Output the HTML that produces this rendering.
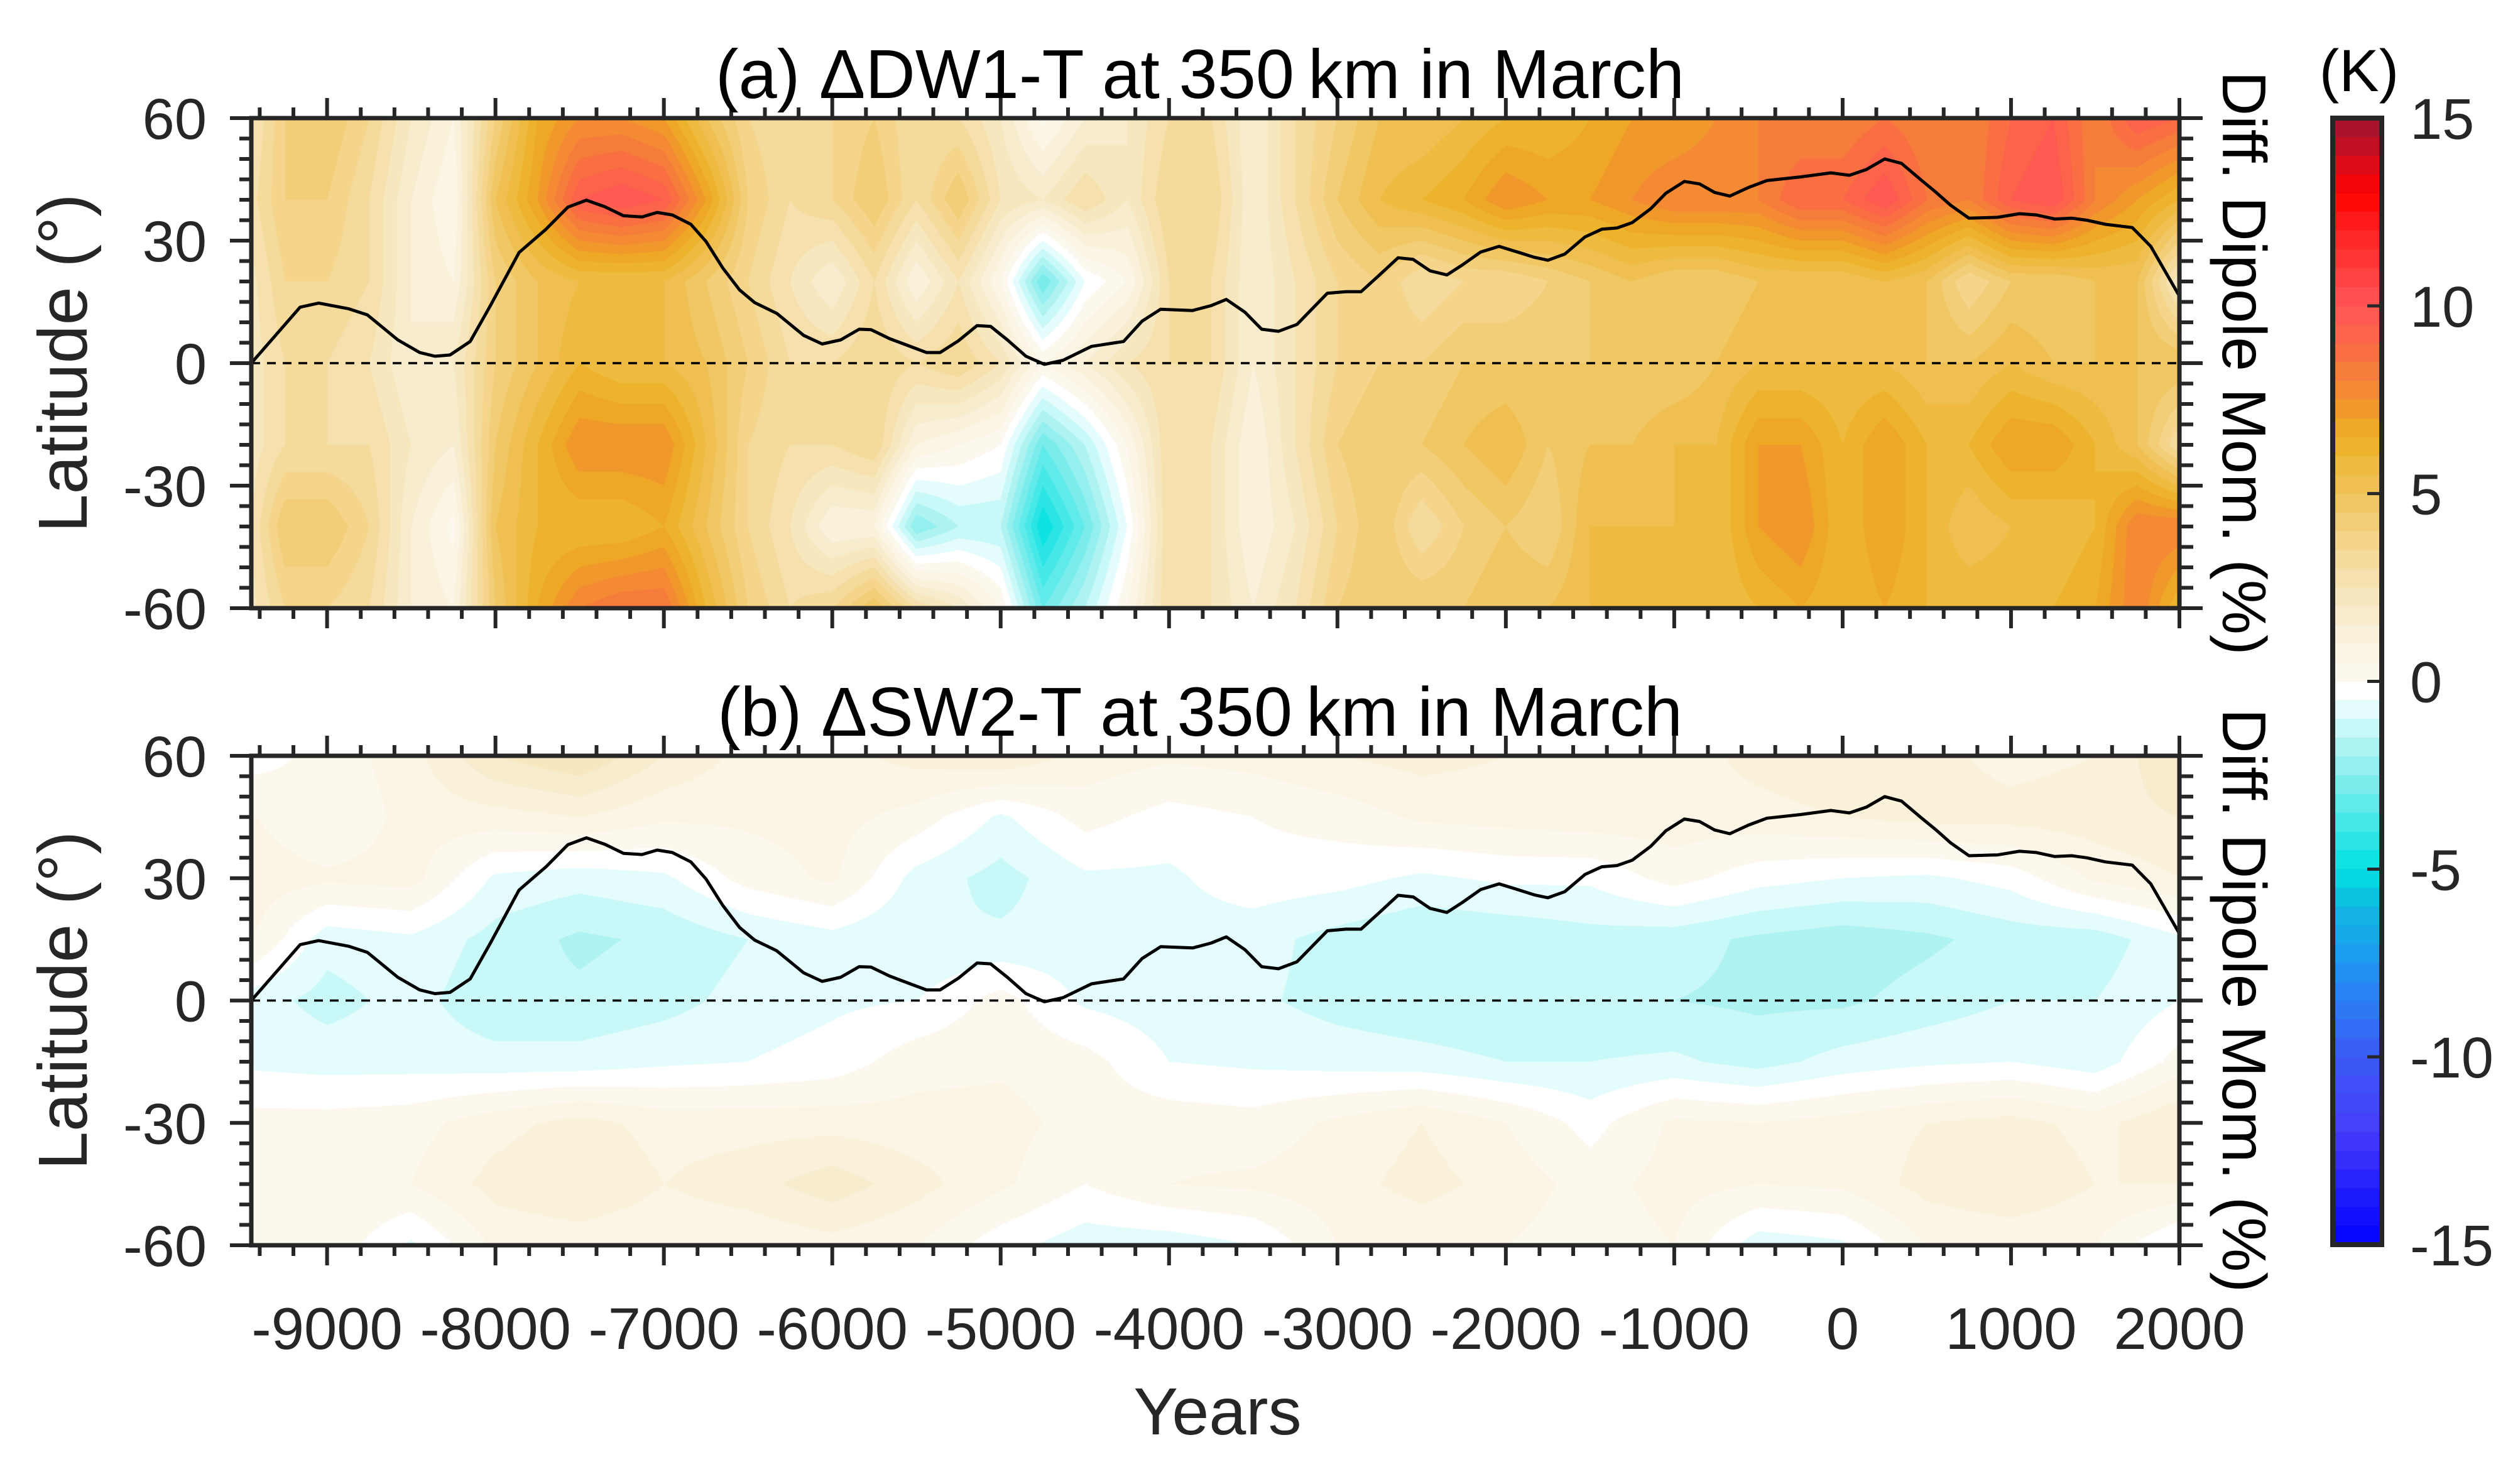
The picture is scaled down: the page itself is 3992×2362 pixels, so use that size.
<!DOCTYPE html>
<html><head><meta charset="utf-8">
<style>
html,body{margin:0;padding:0;background:#fff;}
#root{position:relative;width:3992px;height:2362px;overflow:hidden;background:#fff;}
canvas{position:absolute;}
svg{position:absolute;left:0;top:0;}
text{font-family:"Liberation Sans",Arial,sans-serif;fill:#262626;}
</style></head>
<body>
<div id="root">
<canvas id="heatA" width="3069" height="780" style="left:400px;top:188px"></canvas>
<canvas id="heatB" width="3069" height="779" style="left:400px;top:1203px"></canvas>
<canvas id="cbar" width="78" height="1793" style="left:3713px;top:188px"></canvas>
<svg id="svg" width="3992" height="2362" xmlns="http://www.w3.org/2000/svg"></svg>
</div>
<script>
// ---------- data ----------
const gridYearsA = [-9500,-9250,-9000,-8750,-8500,-8250,-8000,-7750,-7500,-7250,-7000,-6750,-6500,-6250,-6000,-5750,-5500,-5250,-5000,-4750,-4500,-4250,-4000,-3750,-3500,-3250,-3000,-2750,-2500,-2250,-2000,-1750,-1500,-1250,-1000,-750,-500,-250,0,250,500,750,1000,1250,1500,1750,2000];
const gridLatsA = [60,40,20,0,-20,-40,-60];
const dw1Lat60  = [2,4,4.5,3.5,2,1,4,6.5,7.5,7.5,7,5,3.5,3,3.5,4,3,3,2,0.3,1.5,2,3, 3,1.5,3,4,5,5,5.5,6,6,6.5,7,7,7.5,8,8,8,8.5,8,8,9,9.5,8,9.5,9];
const dw1Lat40  = [2.5,4,4,3,1.5,0.5,5,7,9.5,10,9.5,7,4,3,3.5,4.5,3,4.5,2.5,2,3,2,3.5, 3.5,1.5,3,4.5,5.5,6,6.5,7.5,7,7,7.5,8,8,8,9,9,10,8.5,8,9.5,10,8,7,6];
const dw1Lat20  = [2,3.5,3.5,3,1.5,1,4,5,5.5,5.5,5.5,4.5,3.5,2.5,1.5,3,1,2.5,0.5,-3,-0.5,0.5,3, 3,1.5,2.5,3.5,4,3,3.5,3.5,4,4.5,5,4.5,4.5,5,5,5,5.5,5,3.5,4.5,4.5,5,5,2];
const dw1Lat0   = [2,3,3,2.5,1.5,2,4,5,6,5.5,5.5,5,4,3,3,3.5,3,3.5,2.5,0.5,1.5,2.5,3, 3,1.5,2.5,3.5,4,4,4.5,4.5,4.5,4.5,4.5,4.5,5,5.5,5.5,5.5,5.5,5,5,5.5,5,5,5,5];
const dw1LatS20 = [2,3,3,3,2,1.5,4.5,6,7.5,7.5,7.5,5.5,3.5,3,3,3.5,1,0.5,0,-3,-1.5,0.5,3, 2.5,1,2.5,4,4.5,4.5,5,5.5,4.5,5,5,5.5,5.5,7,7,6,7,6,6,7,7,6,5,3];
const dw1LatS40 = [2,4.5,4.5,3.5,1.5,0.3,5,6,6,6,6.5,5,3.5,2.5,1,1,-2.5,-1.5,-1.5,-5,-3,-0.5,3, 2.5,1,2,3.5,4.5,3,4,4.5,4,5.5,5.5,5.5,5.5,7,7.5,6,7,6,5,5.5,5.5,6,8,8];
const dw1LatS60 = [2,3.5,3.5,3,1.5,1,4.5,6.5,8,8.5,8.5,6,4,3,3.5,5,3,2,0.5,-3,-1.5,0.5,3, 2.5,1.5,2.5,4,4.5,4.5,4.5,5,5,5.5,5.5,5.5,5.5,6,6.5,6,6.5,6,6,6,6,6.5,8,6];

const gridYearsB = [-9500,-9000,-8500,-8000,-7500,-7000,-6500,-6000,-5500,-5000,-4500,-4000,-3500,-3000,-2500,-2000,-1500,-1000,-500,0,500,1000,1500,2000];
const gridLatsB = [60,45,30,15,0,-15,-30,-45,-60];
const sw2Lat60  = [-0.3,0.2,0.8,2,2.5,1.5,0.8,0.8,1.2,1.5,0.8,0.6,0.7,1,1.2,1.0,0.8,0.7,1.2,1.5,1.2,0.8,1.0,2];
const sw2Lat45  = [0.6,0,0.7,0.8,1,0.6,0.6,0.7,0.3,-0.6,0.2,-0.2,0,0.2,0.6,0.7,0.8,0.8,0.8,1,1.2,1.2,1.3,1.5];
const sw2Lat30  = [0.8,0.6,0.7,-0.6,-0.8,-0.6,0.2,0.6,-0.7,-1.2,-0.6,-0.6,-0.2,-0.3,-0.6,-0.4,-0.4,0.2,-0.3,-0.5,-0.6,-0.3,0.6,1.0];
const sw2Lat15  = [0.7,-0.8,-0.6,-1.2,-1.6,-1.4,-1,-0.7,-1.0,-0.9,-0.8,-0.7,-0.8,-1.2,-1.5,-1.4,-1.2,-1.3,-1.6,-1.8,-1.6,-1.3,-1.3,-0.6];
const sw2Lat0   = [-0.7,-1.2,-0.8,-1.4,-1.4,-1.2,-0.8,-0.6,-0.5,0.2,-0.6,-0.8,-0.9,-1.2,-1.4,-1.5,-1.4,-1.5,-1.6,-1.6,-1.3,-1.0,-1.0,-0.5];
const sw2LatS15 = [-0.6,-0.7,-0.7,-0.8,-0.8,-0.6,-0.5,-0.3,0.3,0.4,0.2,-0.5,-0.6,-0.7,-0.8,-1.0,-1.0,-0.9,-1.2,-0.8,-0.6,-0.5,-0.8,0.2];
const sw2LatS30 = [0.2,0.2,0.3,0.8,1.2,0.8,0.8,0.8,0.7,0.7,0.3,0.3,0.2,0.6,1,0.5,-0.2,0.6,0.5,0.7,1.0,1.2,0.8,1.5];
const sw2LatS45 = [0.3,0.5,0.5,1.2,1.5,1.0,1.3,1.8,1.2,0.6,0,0.5,0.6,0.8,1.2,0.8,0.3,0.7,0.5,0.6,1.2,1.5,1.0,1.0];
const sw2LatS60 = [0.5,0.4,-0.6,0.6,0.7,0.6,0.6,0.8,0.5,-0.3,-0.8,-0.8,-0.5,0.5,0.6,0.5,0.2,0.5,-0.8,-0.6,0.5,0.6,0.5,-0.6];

const dipoleYears = [-9450,-9160,-9050,-8870,-8760,-8580,-8450,-8360,-8270,-8150,-8030,-7860,-7700,-7570,-7460,-7350,-7240,-7130,-7040,-6950,-6840,-6750,-6650,-6550,-6460,-6330,-6170,-6060,-5950,-5840,-5770,-5660,-5550,-5440,-5360,-5250,-5140,-5060,-4960,-4850,-4740,-4630,-4460,-4270,-4160,-4050,-3860,-3750,-3660,-3550,-3450,-3350,-3240,-3060,-2950,-2860,-2750,-2640,-2550,-2450,-2350,-2260,-2150,-2040,-1930,-1830,-1750,-1650,-1530,-1430,-1340,-1250,-1140,-1050,-940,-850,-760,-670,-560,-450,-250,-70,40,140,250,350,470,550,640,750,920,1050,1150,1260,1360,1450,1560,1720,1830,2000];
const dipoleDiff = [0,13.7,14.7,13.3,11.8,5.7,2.6,1.7,2.0,5.3,14.1,27.1,32.8,38.2,39.9,38.3,36.1,35.8,36.9,36.3,34.0,29.8,23.3,17.9,14.8,12.2,6.8,4.7,5.7,8.3,8.2,6.0,4.3,2.6,2.6,5.5,9.2,9.0,5.7,1.7,-0.3,0.7,4.1,5.3,10.3,13.2,12.9,14.1,15.6,12.5,8.3,7.8,9.5,17.1,17.5,17.5,21.6,25.8,25.4,22.6,21.6,24.0,27.2,28.6,27.2,25.9,25.2,26.7,30.9,32.8,33.1,34.4,37.8,41.6,44.5,43.9,41.8,40.9,43.0,44.7,45.6,46.6,46.0,47.4,50.0,48.9,44.7,42.0,38.7,35.5,35.7,36.6,36.3,35.3,35.5,35.0,34.0,33.2,28.6,16.4];

const xTickLabels = ["-9000","-8000","-7000","-6000","-5000","-4000","-3000","-2000","-1000","0","1000","2000"];
const yTickLabels = ["60","30","0","-30","-60"];
const cbarTickLabels = ["15","10","5","0","-5","-10","-15"];

// ---------- layout ----------
const X0=400, X1=3469, YMIN=-9450, YMAX=2000;
const panels=[{top:188,bot:968,title:"(a) \u0394DW1-T at 350\u2009km in March",key:"a"},
              {top:1203,bot:1982,title:"(b) \u0394SW2-T at 350\u2009km in March",key:"b"}];
function xScale(yr){return X0+(yr-YMIN)/(YMAX-YMIN)*(X1-X0);}
function yScale(p,lat){return p.top+(60-lat)/120*(p.bot-p.top);}
const CB_T=188, CB_B=1981, CB_L=3713, CB_R=3791;
function cbY(v){return CB_T+(15-v)/30*(CB_B-CB_T);}

const cmapV=[-15,-12,-10,-7.5,-6,-5,-4.5,-3,-2,-1,-0.25,0.25,1,2,3,4,5,6.5,7,8,9,10,12,13,14,15];
const cmapC=[[0,0,255],[70,60,250],[60,90,245],[30,150,240],[15,185,225],[0,225,225],[30,228,228],[110,235,235],[160,240,240],[215,250,250],[255,255,255],[252,248,238],[250,243,225],[248,234,200],[245,222,165],[243,210,130],[240,195,90],[236,176,36],[240,160,40],[245,130,55],[250,105,70],[255,85,85],[255,35,35],[255,0,0],[205,15,30],[160,20,50]];
function cmap(v){
  let b=Math.floor(v*2)/2+0.25;
  if(b<-14.75)b=-14.75; if(b>14.75)b=14.75;
  for(let i=0;i<cmapV.length-1;i++){
    if(b>=cmapV[i]&&b<=cmapV[i+1]){
      const t=(b-cmapV[i])/(cmapV[i+1]-cmapV[i]);
      const a=cmapC[i],c=cmapC[i+1];
      return [a[0]+(c[0]-a[0])*t,a[1]+(c[1]-a[1])*t,a[2]+(c[2]-a[2])*t];
    }
  }
  return [255,255,255];
}
function locate(arr,v){
  if(v<=arr[0])return [0,0];
  if(v>=arr[arr.length-1])return [arr.length-2,1];
  for(let i=0;i<arr.length-1;i++){ if(v>=arr[i]&&v<=arr[i+1]) return [i,(v-arr[i])/(arr[i+1]-arr[i])]; }
  return [0,0];
}
function drawHeat(canvasId,p,years,lats,rows){
  const cv=document.getElementById(canvasId), ctx=cv.getContext('2d');
  const W=cv.width,H=cv.height, img=ctx.createImageData(W,H);
  const latsAsc=lats.slice().reverse(), rowsAsc=rows.slice().reverse();
  const colIdx=[];
  for(let px=0;px<W;px++){const yr=YMIN+(px+0.5)/W*(YMAX-YMIN);colIdx.push(locate(years,yr));}
  for(let py=0;py<H;py++){
    const lat=60-(py+0.5)/H*120;
    const [ri,rt]=locate(latsAsc,lat);
    const r0=rowsAsc[ri], r1=rowsAsc[ri+1];
    for(let px=0;px<W;px++){
      const [ci,ct]=colIdx[px];
      const v0=r0[ci]+(r0[ci+1]-r0[ci])*ct, v1=r1[ci]+(r1[ci+1]-r1[ci])*ct;
      const c=cmap(v0+(v1-v0)*rt);
      const k=(py*W+px)*4;
      img.data[k]=c[0];img.data[k+1]=c[1];img.data[k+2]=c[2];img.data[k+3]=255;
    }
  }
  ctx.putImageData(img,0,0);
}
drawHeat('heatA',panels[0],gridYearsA,gridLatsA,[dw1Lat60,dw1Lat40,dw1Lat20,dw1Lat0,dw1LatS20,dw1LatS40,dw1LatS60]);
drawHeat('heatB',panels[1],gridYearsB,gridLatsB,[sw2Lat60,sw2Lat45,sw2Lat30,sw2Lat15,sw2Lat0,sw2LatS15,sw2LatS30,sw2LatS45,sw2LatS60]);
(function(){
  const cv=document.getElementById('cbar'),ctx=cv.getContext('2d');
  for(let py=0;py<cv.height;py++){const v=15-(py+0.5)/cv.height*30;const c=cmap(v);
    ctx.fillStyle='rgb('+c.map(Math.round).join(',')+')';ctx.fillRect(0,py,cv.width,1);}
})();

// ---------- SVG ----------
const NS="http://www.w3.org/2000/svg", svg=document.getElementById('svg');
function el(tag,attrs,parent){const e=document.createElementNS(NS,tag);for(const k in attrs)e.setAttribute(k,attrs[k]);(parent||svg).appendChild(e);return e;}
const AX="#262626";
panels.forEach(function(p,pi){
  const g=el('g',{});
  
  
  const z=el('line',{x1:X0,x2:X1,y1:yScale(p,0),y2:yScale(p,0),stroke:'#000','stroke-width':3.5,'stroke-dasharray':'14,11'},g);
  
  
  let d='';
  dipoleYears.forEach(function(yr,i){d+=(i?'L':'M')+xScale(yr).toFixed(1)+','+yScale(p,dipoleDiff[i]).toFixed(1);});
  const ln=el('path',{d:d,fill:'none',stroke:'#000','stroke-width':5,'stroke-linejoin':'round'},g);
  
  
  let td='';
  for(let yr=-9400;yr<=2000;yr+=200){
    const x=xScale(yr), major=(yr%1000===0), L=major?32:17;
    td+='M'+x+','+p.top+'v'+(-L)+'M'+x+','+p.bot+'v'+L;
  }
  for(let lat=-60;lat<=60;lat+=5){
    const y=yScale(p,lat), major=(lat%30===0);
    td+='M'+X0+','+y+'h'+(-(major?34:19))+'M'+X1+','+y+'h'+(major?37:22);
  }
  const tk=el('path',{d:td,stroke:AX,'stroke-width':6,fill:'none'},g);
  
  
  const fr=el('rect',{x:X0,y:p.top,width:X1-X0,height:p.bot-p.top,fill:'none',stroke:AX,'stroke-width':7},g);
  
  
  yTickLabels.forEach(function(lb){
    const t=el('text',{x:329,y:yScale(p,+lb)+33,'text-anchor':'end','font-size':92},g);
    t.textContent=lb;
    
    
  });
  const tt=el('text',{x:1910,y:p.top-32,'text-anchor':'middle','font-size':110,style:'fill:#000'},g);
  tt.textContent=p.title;
  
  
  const cy=(p.top+p.bot)/2;
  const yl=el('text',{x:0,y:0,'text-anchor':'middle','font-size':110,transform:'translate(138,'+cy+') rotate(-90)'},g);
  yl.textContent='Latitude (\u00B0)';
  
  
  const rl=el('text',{x:0,y:0,'text-anchor':'middle','font-size':98,transform:'translate(3538,'+cy+') rotate(90)',style:'fill:#000'},g);
  rl.textContent='Diff. Dipole Mom. (%)';
  
  
});
xTickLabels.forEach(function(lb){
  const t=el('text',{x:xScale(+lb),y:2147,'text-anchor':'middle','font-size':94});
  t.textContent=lb;
  
  
});
const xt=el('text',{x:1938,y:2283,'text-anchor':'middle','font-size':106});
xt.textContent='Years';


const cbf=el('rect',{x:CB_L,y:CB_T,width:CB_R-CB_L,height:CB_B-CB_T,fill:'none',stroke:AX,'stroke-width':8});


cbarTickLabels.forEach(function(lb){
  const y=cbY(+lb);
  const tkl=el('line',{x1:CB_R-23,x2:CB_R,y1:y,y2:y,stroke:AX,'stroke-width':5});
  
  
  const t=el('text',{x:3836,y:y+33,'font-size':92});
  t.textContent=lb;
  
  
});
const kt=el('text',{x:3755,y:145,'text-anchor':'middle','font-size':95,style:'fill:#000'});
kt.textContent='(K)';


</script>
</body></html>
